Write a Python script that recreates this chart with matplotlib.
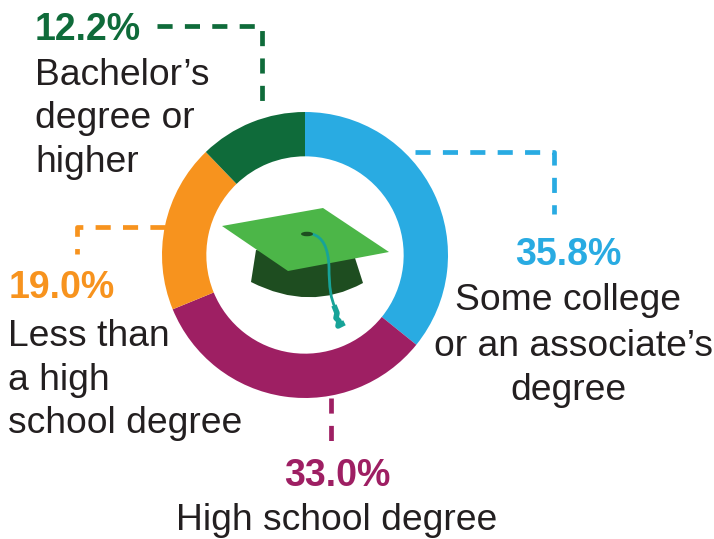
import numpy as np
import matplotlib
matplotlib.use("Agg")
import matplotlib.pyplot as plt
from matplotlib.patches import Polygon, PathPatch, Ellipse
from matplotlib.path import Path

plt.rcParams['font.family'] = ['Liberation Sans', 'DejaVu Sans']

# share of each group, clockwise from 12 o'clock
shares = [35.8, 33.0, 19.0, 12.2]
colors = ['#29abe2', '#9e1f63', '#f7931e', '#0f6b3a']
pct_labels = ['35.8%', '33.0%', '19.0%', '12.2%']
names = ["Some college\nor an associate\u2019s\ndegree", "High school degree",
         "Less than\na high\nschool degree", "Bachelor\u2019s\ndegree or\nhigher"]

W, H = 714, 539
fig = plt.figure(figsize=(W/100, H/100), dpi=100)
ax = fig.add_axes([0, 0, 1, 1])
ax.set_xlim(0, W)
ax.set_ylim(H, 0)
ax.axis('off')

# donut
cx, cy, r = 305, 255, 143
ax2 = fig.add_axes([(cx-r)/W, 1-(cy+r)/H, 2*r/W, 2*r/H])
ax2.pie(shares, colors=colors, startangle=90, counterclock=False, radius=1,
        wedgeprops=dict(width=0.31))
ax2.set_xlim(-1, 1)
ax2.set_ylim(-1, 1)

# cap goes on top of the donut axes
top = fig.add_axes([0, 0, 1, 1])
top.set_xlim(0, W)
top.set_ylim(H, 0)
top.axis('off')

# dashed leader lines
dash = (0, (3.2, 2.6))
top.plot([415, 554, 554], [152, 152, 214], color=colors[0], lw=3.4, ls=dash)
top.plot([331, 331], [398, 452], color=colors[1], lw=3.4, ls=dash)
top.plot([165, 77, 77], [227, 227, 254], color=colors[2], lw=3.4, ls=dash)
top.plot([157, 262, 262], [26, 26, 111], color=colors[3], lw=3.4, ls=dash)

# percentages
fs = 27
top.text(568, 255, pct_labels[0], color=colors[0], fontsize=fs, fontweight='bold', ha='center', va='center')
top.text(337, 476, pct_labels[1], color=colors[1], fontsize=fs, fontweight='bold', ha='center', va='center')
top.text(62, 288, pct_labels[2], color=colors[2], fontsize=fs, fontweight='bold', ha='center', va='center')
top.text(88, 30, pct_labels[3], color=colors[3], fontsize=fs, fontweight='bold', ha='center', va='center')

# category names, middle line of the first label sits a bit to the right
nfs = 26.8
ls = 1.33
some = names[0].split('\n')
top.text(568, 301, some[0], color='#231f20', fontsize=nfs, ha='center', va='center')
top.text(573, 346, some[1], color='#231f20', fontsize=nfs, ha='center', va='center')
top.text(568, 391, some[2], color='#231f20', fontsize=nfs, ha='center', va='center')
top.text(337, 521, names[1], color='#231f20', fontsize=nfs, ha='center', va='center')
top.text(8, 380, names[2], color='#231f20', fontsize=nfs, ha='left', va='center', linespacing=ls)
top.text(35, 119, names[3], color='#231f20', fontsize=nfs, ha='left', va='center', linespacing=ls)

# graduation cap
base = Path([(256, 250), (251, 282), (310, 312), (363, 283), (355, 258), (256, 250)],
            [Path.MOVETO, Path.LINETO, Path.CURVE3, Path.CURVE3, Path.LINETO, Path.CLOSEPOLY])
top.add_patch(PathPatch(base, facecolor='#1e4d20', edgecolor='none', zorder=5))
top.add_patch(Polygon([(222, 226), (323, 208), (389, 252), (288, 271)], color='#4cb648', lw=0, zorder=6))
top.add_patch(Ellipse((307, 234), 12, 4.5, color='#1e4d20', lw=0, zorder=8))
cord = Path([(312, 234), (328, 238), (329, 267), (329, 297), (335, 307)],
            [Path.MOVETO, Path.CURVE3, Path.CURVE3, Path.CURVE3, Path.CURVE3])
top.add_patch(PathPatch(cord, facecolor='none', edgecolor='#17a398', lw=2, zorder=7))
top.plot([335, 337, 336, 339, 338, 342], [308, 313, 318, 321, 326, 324], color='#17a398', lw=4, zorder=7)

fig.savefig('out.png', dpi=100)
